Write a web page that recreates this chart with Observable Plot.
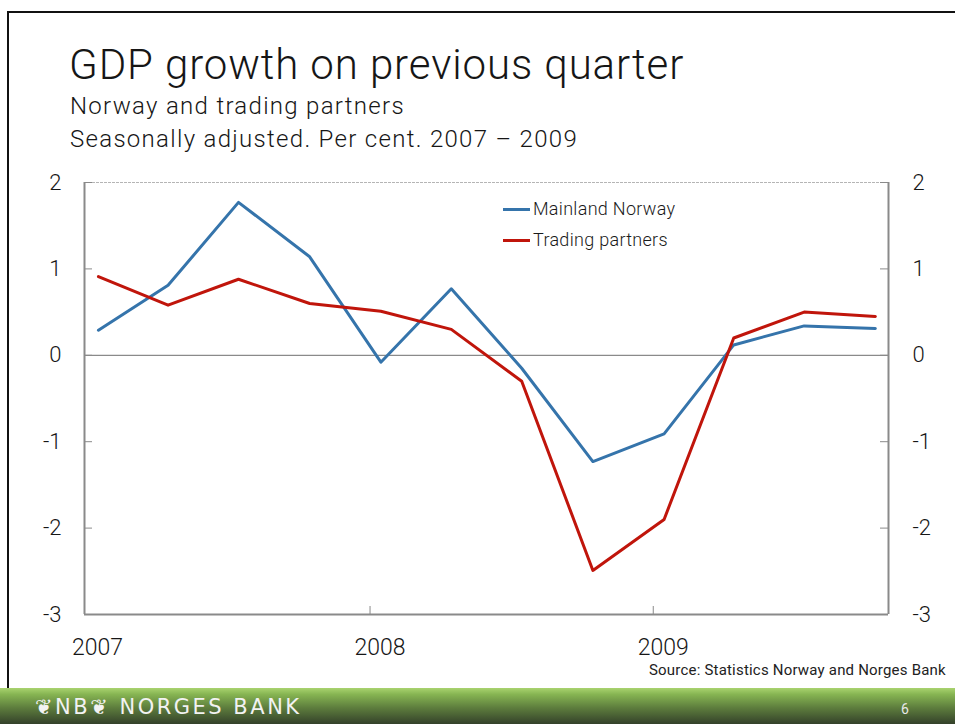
<!DOCTYPE html>
<html>
<head>
<meta charset="utf-8">
<script src="https://cdn.jsdelivr.net/npm/d3@7"></script>
<script src="https://cdn.jsdelivr.net/npm/@observablehq/plot@0.6"></script>
<style>
  html, body { margin: 0; padding: 0; background: #fff; }
  body { width: 955px; height: 724px; position: relative; overflow: hidden; font-family: Roboto, "Liberation Sans", sans-serif; color: #161616; }
  .frame { position: absolute; left: 7px; top: 11px; width: 1000px; height: 800px; border-top: 2px solid #111; border-left: 2px solid #111; }
  .t { position: absolute; white-space: nowrap; font-weight: 300; }
  #chart { position: absolute; left: 0; top: 160px; }
  .leg { position: absolute; left: 503px; font-size: 18px; font-weight: 300; letter-spacing: 0.3px; color: #1a1a1a; white-space: nowrap; }
  .leg span.sw { display: inline-block; width: 27px; height: 3px; vertical-align: middle; margin-right: 3px; position: relative; top: -1px; }
  .footer { position: absolute; left: 0; top: 688px; width: 955px; height: 36px;
    background: linear-gradient(to bottom, #a9d36f 0%, #86b452 18%, #5d7d3d 55%, #34412a 100%); }
</style>
</head>
<body>
<div class="frame"></div>
<div class="t" style="left:69px; top:40px; font-size:42px; letter-spacing:0.9px;">GDP growth on previous quarter</div>
<div class="t" style="left:70px; top:92px; font-size:24px; letter-spacing:1.3px;">Norway and trading partners</div>
<div class="t" style="left:70px; top:125px; font-size:24px; letter-spacing:1.3px;">Seasonally adjusted. Per cent. 2007 – 2009</div>
<div id="chart"></div>
<div class="leg" style="top:198px;"><span class="sw" style="background:#3574ab"></span>Mainland Norway</div>
<div class="leg" style="top:229px;"><span class="sw" style="background:#c0150b"></span>Trading partners</div>
<div class="t" style="left:649px; top:661px; font-size:15px; font-weight:400; letter-spacing:0.2px; color:#222;">Source: Statistics Norway and Norges Bank</div>
<div class="footer"></div>
<div class="t" style="left:35px; top:695px; font-size:21px; font-weight:400; color:#f2f2f2; letter-spacing:2.5px; font-family:'DejaVu Sans', sans-serif;">❦NB❦ NORGES BANK</div>
<div class="t" style="left:901px; top:701px; font-size:14px; font-weight:400; color:#e8e8e8;">6</div>
<script>
// Data: quarterly GDP growth (per cent), 2007 Q1 – 2009 Q4
const quarters = ["2007Q1","2007Q2","2007Q3","2007Q4","2008Q1","2008Q2","2008Q3","2008Q4","2009Q1","2009Q2","2009Q3","2009Q4"];
const mainlandNorway = [0.29, 0.81, 1.77, 1.14, -0.08, 0.77, -0.15, -1.23, -0.91, 0.12, 0.34, 0.31];
const tradingPartners = [0.91, 0.58, 0.88, 0.60, 0.51, 0.30, -0.30, -2.49, -1.90, 0.20, 0.50, 0.45];
const yTicks = [-3, -2, -1, 0, 1, 2];
const yearTicks = [2007, 2008, 2009];

const qDate = q => new Date(Date.UTC(+q.slice(0, 4), (+q.slice(5) - 1) * 3, 15));
const rows = [];
quarters.forEach((q, i) => {
  rows.push({date: qDate(q), value: mainlandNorway[i], series: "Mainland Norway"});
  rows.push({date: qDate(q), value: tradingPartners[i], series: "Trading partners"});
});
const xDomain = [new Date(Date.UTC(2006, 11, 28)), new Date(Date.UTC(2009, 10, 1))];
const yearDates = yearTicks.map(y => new Date(Date.UTC(y, 0, 1)));
const fmtY = d => (d < 0 ? "-" + Math.abs(d) : String(d));

const W = 955, ML = 84, MR = 67, MT = 22, MB = 50, H = 504;
const innerW = W - ML - MR, innerH = H - MT - MB;

const chart = Plot.plot({
  width: W, height: H,
  marginLeft: ML, marginRight: MR, marginTop: MT, marginBottom: MB,
  style: {fontFamily: "Roboto, 'Liberation Sans', sans-serif", fontSize: "22px", color: "#161616", background: "transparent"},
  x: {type: "utc", domain: xDomain, label: null},
  y: {domain: [-3, 2], label: null},
  color: {domain: ["Mainland Norway", "Trading partners"], range: ["#3574ab", "#c0150b"]},
  marks: [
    Plot.ruleY([2], {stroke: "#b5b5b5", strokeDasharray: "3,1"}),
    Plot.ruleY([0], {stroke: "#8a8a8a", strokeWidth: 1.2}),
    Plot.ruleY([-3], {stroke: "#8a8a8a", strokeWidth: 2}),
    Plot.ruleX(xDomain, {stroke: "#8a8a8a", strokeWidth: 2}),
    Plot.tickY(yTicks, {y: d => d, stroke: "#8a8a8a", insetRight: innerW - 8}),
    Plot.tickY(yTicks, {y: d => d, stroke: "#8a8a8a", insetLeft: innerW - 8}),
    Plot.tickX(yearDates.slice(1), {x: d => d, stroke: "#8a8a8a", insetTop: innerH - 8}),
    Plot.axisY(yTicks, {anchor: "left", label: null, tickSize: 0, tickPadding: 23, fontWeight: 300, tickFormat: fmtY}),
    Plot.axisY(yTicks, {anchor: "right", label: null, tickSize: 0, tickPadding: 24, fontWeight: 300, tickFormat: fmtY}),
    Plot.axisX(yearDates, {anchor: "bottom", label: null, tickSize: 0, tickPadding: 24, dx: 10, fontWeight: 300, fontSize: 23, tickFormat: d => String(d.getUTCFullYear())}),
    Plot.line(rows, {x: "date", y: "value", z: "series", stroke: "series", strokeWidth: 3})
  ]
});
document.getElementById("chart").appendChild(chart);
</script>
</body>
</html>
